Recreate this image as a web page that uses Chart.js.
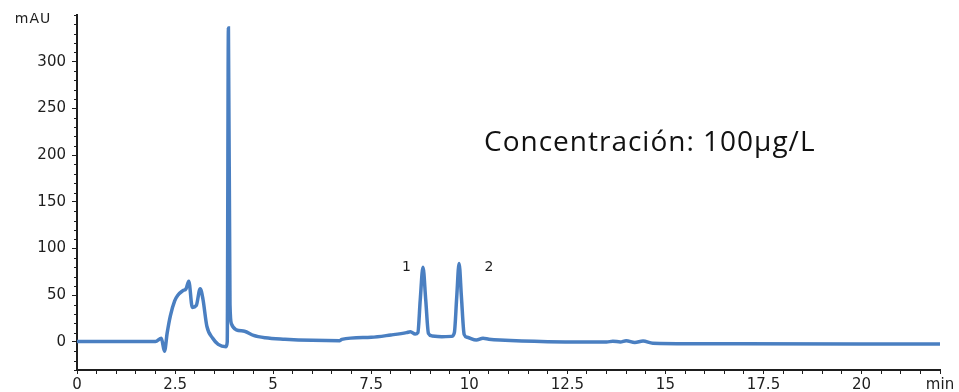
<!DOCTYPE html>
<html lang="es">

<head>
    <meta charset="UTF-8">
    <title>Cromatograma</title>
    <script src="https://cdn.jsdelivr.net/npm/chart.js"></script>
    <style>
        html, body { margin: 0; padding: 0; background: #fff; }
        #caja { width: 959px; height: 392px; }
    </style>
</head>

<body>
    <div id="caja"><canvas id="cromatograma"></canvas></div>

    <script>
        const tiempos = [0, 2.0, 2.15, 2.23, 2.3, 2.38, 2.49, 2.57, 2.7, 2.78, 2.85, 2.94, 3.04, 3.14, 3.21, 3.31,
            3.46, 3.6, 3.8, 3.83, 3.86, 3.9, 3.94, 4.06, 4.27, 4.5, 4.8, 5.3, 6.0, 6.7, 6.75, 7.5, 8.0, 8.4, 8.5,
            8.62, 8.69, 8.75, 8.82, 8.89, 8.96, 9.05, 9.3, 9.55, 9.62, 9.68, 9.74, 9.8, 9.87, 9.95, 10.18, 10.35,
            10.5, 10.78, 12.0, 13.5, 13.66, 13.85, 14.0, 14.22, 14.43, 14.68, 16.9, 22];
        const absorbancia = [0.5, 0.5, 4, -10, 10, 28, 44, 50, 55, 57, 65, 37, 39, 57, 46, 17,
            4, -2.5, -5, 0, 336, 40, 19, 13, 11.5, 7, 4.5, 3, 1.8, 1.4, 2.8, 5, 7.5, 10, 11,
            8.5, 10, 45, 80, 45, 9, 6.5, 5.7, 6, 10, 48, 84, 48, 8, 5, 2, 4,
            3, 2, 0.3, 0, 0.8, 0, 1.4, -0.5, 1, -1.3, -2, -2.3];

        const etiquetasX = [0, 2.5, 5, 7.5, 10, 12.5, 15, 17.5, 20];
        const etiquetasY = [0, 50, 100, 150, 200, 250, 300];

        // picos identificados: [texto, tiempo, mAU]
        const picos = [["1", 8.4, 80], ["2", 10.5, 80]];

        const colorEje = "#1e1e1e";
        const fuenteEjes = { family: "DejaVu Sans", size: 15 };

        const extras = {
            id: "extras",
            afterDraw(chart) {
                const ctx = chart.ctx;
                const x = chart.scales.x;
                const y = chart.scales.y;
                ctx.save();

                // marcas menores del eje Y
                ctx.strokeStyle = colorEje;
                ctx.lineWidth = 1;
                y.ticks.forEach(t => {
                    if (etiquetasY.includes(t.value)) return;
                    const py = Math.round(y.getPixelForValue(t.value)) + 0.5;
                    ctx.beginPath();
                    ctx.moveTo(x.left - 3, py);
                    ctx.lineTo(x.left, py);
                    ctx.stroke();
                });

                ctx.fillStyle = colorEje;
                ctx.font = "14px 'DejaVu Sans'";
                ctx.textAlign = "center";
                ctx.textBaseline = "middle";
                ctx.letterSpacing = "1px";
                ctx.fillText("mAU", 33, 19);
                ctx.letterSpacing = "0px";

                picos.forEach(([txt, t, v]) => {
                    ctx.fillText(txt, x.getPixelForValue(t), y.getPixelForValue(v));
                });

                ctx.font = "28px 'Open Sans'";
                ctx.letterSpacing = "1px";
                ctx.textAlign = "left";
                ctx.fillStyle = "#111";
                ctx.fillText("Concentración: 100µg/L", 484, 143);
                ctx.restore();
            }
        };

        new Chart(document.getElementById("cromatograma"), {
            type: "line",
            data: {
                datasets: [{
                    data: tiempos.map((t, i) => ({ x: t, y: absorbancia[i] })),
                    borderColor: "#4a7fc1",
                    borderWidth: 3.5,
                    pointRadius: 0,
                    cubicInterpolationMode: "monotone",
                    fill: false
                }]
            },
            options: {
                responsive: true,
                maintainAspectRatio: false,
                animation: false,
                layout: { padding: { left: 0, right: 19, top: 15, bottom: 0 } },
                plugins: {
                    legend: { display: false },
                    tooltip: { enabled: false }
                },
                scales: {
                    x: {
                        type: "linear",
                        min: 0,
                        max: 22,
                        afterFit: s => { s.height = 22; },
                        ticks: {
                            stepSize: 0.5,
                            autoSkip: false,
                            maxRotation: 0,
                            padding: 2,
                            color: colorEje,
                            font: fuenteEjes,
                            callback: v => v === 22 ? "min" : (etiquetasX.includes(v) ? String(v) : "")
                        },
                        grid: { drawOnChartArea: false, tickLength: 4, tickColor: colorEje },
                        border: { color: colorEje, width: 2 }
                    },
                    y: {
                        min: -30,
                        max: 350,
                        afterFit: s => { s.width = 77; },
                        ticks: {
                            stepSize: 10,
                            autoSkip: false,
                            padding: 6,
                            color: colorEje,
                            font: fuenteEjes,
                            callback: v => etiquetasY.includes(v) ? String(v) : ""
                        },
                        grid: {
                            drawOnChartArea: false,
                            tickLength: 5,
                            tickColor: c => etiquetasY.includes(c.tick.value) ? colorEje : "rgba(0,0,0,0)"
                        },
                        border: { color: colorEje, width: 2 }
                    }
                }
            },
            plugins: [extras]
        });
    </script>
</body>

</html>
